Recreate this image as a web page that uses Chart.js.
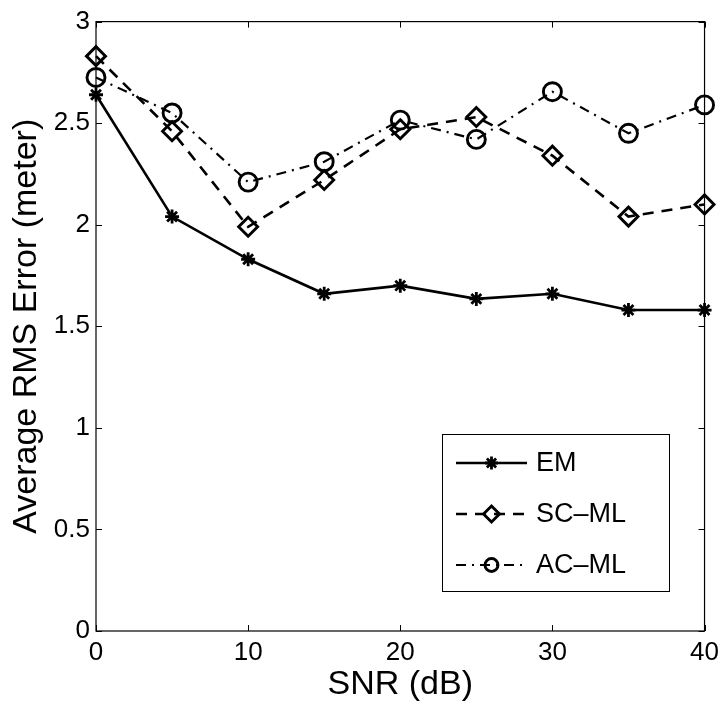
<!DOCTYPE html>
<html>
<head>
<meta charset="utf-8">
<script src="https://cdn.jsdelivr.net/npm/chart.js@4/dist/chart.umd.min.js"></script>
<style>
  html, body { margin: 0; padding: 0; background: #fff; }
  #wrap { width: 725px; height: 706px; }
</style>
</head>
<body>
<div id="wrap"><canvas id="rms"></canvas></div>
<script>
// values
var snr = [0, 5, 10, 15, 20, 25, 30, 35, 40];
var emErr = [2.64, 2.04, 1.83, 1.66, 1.70, 1.635, 1.66, 1.58, 1.58];
var scMlErr = [2.83, 2.46, 1.99, 2.22, 2.47, 2.53, 2.34, 2.04, 2.10];
var acMlErr = [2.725, 2.55, 2.21, 2.31, 2.515, 2.42, 2.655, 2.45, 2.59];
var seriesNames = ['EM', 'SC\u2013ML', 'AC\u2013ML'];

var fontFam = '"Liberation Sans", Arial, Helvetica, sans-serif';

function pts(ys) {
  return ys.map(function(y, i) { return {x: snr[i], y: y}; });
}

// box round the plot, ticks pointing inwards on all four sides
var frame = {
  id: 'frame',
  afterDraw: function(chart) {
    var ctx = chart.ctx, a = chart.chartArea;
    var xs = chart.scales.x, ys = chart.scales.y;
    ctx.save();
    ctx.strokeStyle = '#000';
    ctx.lineWidth = 1.2;
    ctx.strokeRect(a.left, a.top, a.right - a.left, a.bottom - a.top);
    ctx.lineWidth = 1;
    ctx.beginPath();
    xs.ticks.forEach(function(t) {
      var px = Math.round(xs.getPixelForValue(t.value)) + 0.5;
      ctx.moveTo(px, a.bottom); ctx.lineTo(px, a.bottom - 6);
      ctx.moveTo(px, a.top); ctx.lineTo(px, a.top + 6);
    });
    ys.ticks.forEach(function(t) {
      var py = Math.round(ys.getPixelForValue(t.value)) + 0.5;
      ctx.moveTo(a.left, py); ctx.lineTo(a.left + 6, py);
      ctx.moveTo(a.right, py); ctx.lineTo(a.right - 6, py);
    });
    ctx.stroke();
    ctx.restore();
  }
};

// matlab style legend box, line sample with the marker in its middle
var legendRadius = [6.5, 8, 6.5];
var matLegend = {
  id: 'matLegend',
  afterDraw: function(chart) {
    var ctx = chart.ctx;
    var bx = 442, by = 434, bw = 227, bh = 157;
    ctx.save();
    ctx.fillStyle = '#fff';
    ctx.fillRect(bx, by, bw, bh);
    ctx.strokeStyle = '#000';
    ctx.lineWidth = 1;
    ctx.strokeRect(bx + 0.5, by + 0.5, bw, bh);
    var rows = [463, 514, 565];
    chart.data.datasets.forEach(function(ds, i) {
      var y = rows[i];
      ctx.strokeStyle = '#000';
      ctx.lineWidth = ds.borderWidth;
      ctx.setLineDash(ds.borderDash || []);
      ctx.beginPath();
      ctx.moveTo(456, y); ctx.lineTo(527, y);
      ctx.stroke();
      ctx.setLineDash([]);
      ctx.fillStyle = 'rgba(0,0,0,0)';
      ctx.lineWidth = ds.pointBorderWidth;
      Chart.helpers.drawPoint(ctx, {
        pointStyle: ds.pointStyle, radius: legendRadius[i], rotation: 0, borderWidth: ds.pointBorderWidth
      }, 491.5, y);
      ctx.fillStyle = '#000';
      ctx.font = '27px ' + fontFam;
      ctx.textAlign = 'left';
      ctx.textBaseline = 'middle';
      ctx.fillText(ds.label, 536, y + 1);
    });
    ctx.restore();
  }
};

Chart.defaults.font.family = fontFam;
Chart.defaults.color = '#000';

new Chart('rms', {
  type: 'line',
  data: {
    datasets: [
      {
        label: seriesNames[0],
        data: pts(emErr),
        borderColor: '#000',
        backgroundColor: 'rgba(0,0,0,0)',
        borderWidth: 2.6,
        pointStyle: 'star',
        pointRadius: 7,
        pointBorderWidth: 2.8,
        pointBorderColor: '#000',
        clip: false
      },
      {
        label: seriesNames[1],
        data: pts(scMlErr),
        borderColor: '#000',
        backgroundColor: 'rgba(0,0,0,0)',
        borderWidth: 2.6,
        borderDash: [11, 8],
        pointStyle: 'rectRot',
        pointRadius: 9.5,
        pointBorderWidth: 2.9,
        pointBorderColor: '#000',
        clip: false
      },
      {
        label: seriesNames[2],
        data: pts(acMlErr),
        borderColor: '#000',
        backgroundColor: 'rgba(0,0,0,0)',
        borderWidth: 2.2,
        borderDash: [10, 6, 2, 6],
        pointStyle: 'circle',
        pointRadius: 9,
        pointBorderWidth: 2.9,
        pointBorderColor: '#000',
        clip: false
      }
    ]
  },
  options: {
    responsive: true,
    maintainAspectRatio: false,
    animation: false,
    layout: { padding: { left: 0, right: 18, top: 20, bottom: 0 } },
    plugins: {
      legend: { display: false },
      tooltip: { enabled: false }
    },
    elements: { line: { tension: 0 } },
    scales: {
      x: {
        type: 'linear',
        min: 0,
        max: 40,
        grid: { display: false, drawTicks: false },
        border: { display: false },
        ticks: { stepSize: 10, padding: 6, font: { size: 26 } },
        title: { display: true, text: 'SNR (dB)', font: { size: 34 }, padding: { top: 0, bottom: 1 } },
        afterFit: function(s) { s.height = 75; }
      },
      y: {
        min: 0,
        max: 3,
        grid: { display: false, drawTicks: false },
        border: { display: false },
        ticks: {
          stepSize: 0.5, padding: 6, font: { size: 26 },
          callback: function(v) { return String(v); }
        },
        title: { display: true, text: 'Average RMS Error (meter)', font: { size: 34 }, padding: { top: 6, bottom: 0 } },
        afterFit: function(s) { s.width = 96; }
      }
    }
  },
  plugins: [frame, matLegend]
});
</script>
</body>
</html>
